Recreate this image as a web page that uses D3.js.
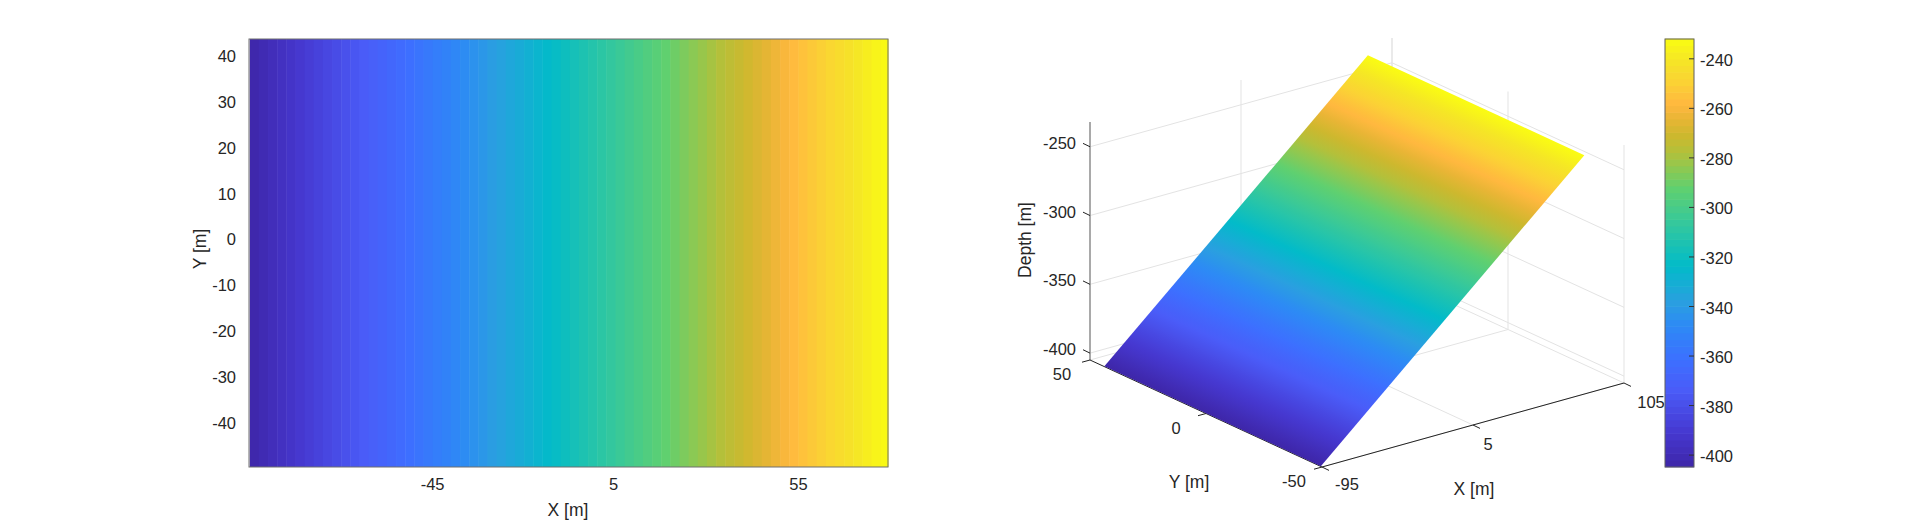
<!DOCTYPE html>
<html>
<head>
<meta charset="utf-8">
<script src="https://cdn.jsdelivr.net/npm/d3@7"></script>
<style>
    html, body { margin: 0; padding: 0; background: #fff; }
    svg { display: block; }
    text { font-family: "Liberation Sans", Arial, sans-serif; font-size: 16.5px; fill: #262626; }
    text.title { font-size: 17.5px; }
</style>
</head>
<body>
<svg id="chart" width="1912" height="525"></svg>
<script>
// surface: depth only changes along X
const xValues = [-95, -92.5, -90, -87.5, -85, -82.5, -80, -77.5, -75, -72.5, -70, -67.5, -65, -62.5, -60, -57.5, -55, -52.5, -50, -47.5, -45, -42.5, -40, -37.5, -35, -32.5, -30, -27.5, -25, -22.5, -20, -17.5, -15, -12.5, -10, -7.5, -5, -2.5, 0, 2.5, 5, 7.5, 10, 12.5, 15, 17.5, 20, 22.5, 25, 27.5, 30, 32.5, 35, 37.5, 40, 42.5, 45, 47.5, 50, 52.5, 55, 57.5, 60, 62.5, 65, 67.5, 70, 72.5, 75, 77.5, 79.5];
const depthValues = [-404.8, -402.3, -399.9, -397.4, -394.9, -392.5, -390.0, -387.5, -385.0, -382.6, -380.1, -377.6, -375.1, -372.7, -370.2, -367.7, -365.2, -362.8, -360.3, -357.8, -355.3, -352.9, -350.4, -347.9, -345.4, -343.0, -340.5, -338.0, -335.5, -333.1, -330.6, -328.1, -325.6, -323.2, -320.7, -318.2, -315.7, -313.3, -310.8, -308.3, -305.8, -303.4, -300.9, -298.4, -295.9, -293.5, -291.0, -288.5, -286.0, -283.6, -281.1, -278.6, -276.1, -273.7, -271.2, -268.7, -266.2, -263.8, -261.3, -258.8, -256.3, -253.9, -251.4, -248.9, -246.4, -244.0, -241.5, -239.0, -236.5, -234.1, -232.0];
const yLimits = [-49.5, 43.8];

const mapXTicks = [-45, 5, 55];
const mapYTicks = [40, 30, 20, 10, 0, -10, -20, -30, -40];
const xTicks3d = [-95, 5, 105];
const yTicks3d = [-50, 0, 50];
const zTicks3d = [-400, -350, -300, -250];
const barTicks = [-240, -260, -280, -300, -320, -340, -360, -380, -400];

const colorPositions = [0, 0.08, 0.18, 0.25, 0.33, 0.385, 0.47, 0.57, 0.65, 0.70, 0.737, 0.775, 0.813, 0.847, 0.90, 0.95, 1];
const colorValues = ['#3e26a8', '#4638d0', '#4a5cf8', '#3d6fff', '#2d8af5', '#2a9fe0', '#02bbc9', '#35c89c', '#5fd070', '#90c850', '#b4c03a', '#cdb82e', '#e8b535', '#ffb83f', '#fbd334', '#f5e626', '#fafc12'];

const depthMin = -404.8;
const depthMax = -232;

const svg = d3.select('#chart');

const depthToT = d3.scaleLinear().domain([depthMin, depthMax]).range([0, 1]);
const tToColor = d3.scaleLinear().domain(colorPositions).range(colorValues).interpolate(d3.interpolateRgb);
const depthColor = d => tToColor(depthToT(d));

/**
 * Left panel, flat colored columns seen from above
 */
function drawMap() {
    const x = d3.scaleLinear().domain([-95.2, 79.5]).range([249, 888]);
    const y = d3.scaleLinear().domain(yLimits).range([467, 39]);
    const g = svg.append('g');

    g.selectAll('rect.col')
        .data(d3.pairs(xValues.map((v, i) => ({x: v, d: depthValues[i]}))))
        .join('rect')
        .attr('class', 'col')
        .attr('x', d => x(d[0].x))
        .attr('y', y(yLimits[1]))
        .attr('width', d => x(d[1].x) - x(d[0].x) + 0.5)
        .attr('height', y(yLimits[0]) - y(yLimits[1]))
        .attr('fill', d => depthColor((d[0].d + d[1].d) / 2));

    g.append('rect')
        .attr('x', 249).attr('y', 39).attr('width', 639).attr('height', 428)
        .attr('fill', 'none').attr('stroke', '#6f6f6f').attr('stroke-width', 1);

    g.selectAll('text.xt').data(mapXTicks).join('text')
        .attr('class', 'xt')
        .attr('x', d => x(d) - (d === 5 ? 2 : 0)).attr('y', 490)
        .attr('text-anchor', 'middle')
        .text(d => d);

    g.selectAll('text.yt').data(mapYTicks).join('text')
        .attr('class', 'yt')
        .attr('x', 236).attr('y', d => y(d) + 5.5)
        .attr('text-anchor', 'end')
        .text(d => d);

    g.append('text').attr('class', 'title').attr('x', 568).attr('y', 516).attr('text-anchor', 'middle').text('X [m]');
    g.append('text').attr('class', 'title')
        .attr('transform', 'translate(206,249) rotate(-90)')
        .attr('text-anchor', 'middle')
        .text('Y [m]');
}

// orthographic projection of the 3D box
const xShare = d3.scaleLinear().domain([-95, 105]).range([0, 1]);
const yShare = d3.scaleLinear().domain([-50, 50]).range([0, 1]);
const zLift = d3.scaleLinear().domain([-405, -232]).range([0, -238]);

function project(px, py, pz) {
    const a = xShare(px);
    const b = yShare(py);
    return [1322 + a * 302 - b * 232, 467 - a * 84 - b * 107 + zLift(pz)];
}

/**
 * Right panel, walls, axes and the tilted surface
 */
function drawSurface() {
    const g = svg.append('g');
    const zFloor = -405;
    const zTop = -232;
    const gridLine = d3.line();

    const grid = [];
    zTicks3d.forEach(z => {
        grid.push([project(-95, 50, z), project(105, 50, z), project(105, -50, z)]);
    });
    xTicks3d.slice(1).forEach(v => {
        grid.push([project(v, -50, zFloor), project(v, 50, zFloor), project(v, 50, zTop)]);
    });
    yTicks3d.forEach(v => {
        grid.push([project(-95, v, zFloor), project(105, v, zFloor), project(105, v, zTop)]);
    });

    g.selectAll('path.grid').data(grid).join('path')
        .attr('class', 'grid')
        .attr('d', gridLine)
        .attr('fill', 'none')
        .attr('stroke', '#e3e3e3')
        .attr('stroke-width', 1);

    // axis lines and ticks
    g.append('path')
        .attr('d', gridLine([project(-95, 50, zFloor), project(-95, 50, zTop)]))
        .attr('stroke', '#8c8c8c').attr('stroke-width', 1.5).attr('fill', 'none');
    g.append('path')
        .attr('d', gridLine([project(-95, 50, zFloor), project(-95, -50, zFloor), project(105, -50, zFloor)]))
        .attr('stroke', '#222').attr('stroke-width', 1).attr('fill', 'none');

    const tick = (p, dx, dy) => gridLine([p, [p[0] + dx, p[1] + dy]]);
    const tickPaths = [
        ...zTicks3d.map(z => tick(project(-95, 50, z), -7, -3.4)),
        ...yTicks3d.map(v => tick(project(-95, v, zFloor), -8, 2.2)),
        ...xTicks3d.map(v => tick(project(v, -50, zFloor), 7, 3.4))
    ];
    g.selectAll('path.tick').data(tickPaths).join('path')
        .attr('class', 'tick').attr('d', d => d)
        .attr('stroke', '#222').attr('stroke-width', 1).attr('fill', 'none');

    // surface, colored with one gradient running across the constant-X lines
    const start = project(xValues[0], yLimits[0], depthValues[0]);
    const last = xValues.length - 1;
    const end = project(xValues[last], yLimits[0], depthValues[last]);
    const along = [project(-95, 50, zFloor)[0] - project(-95, -50, zFloor)[0], project(-95, 50, zFloor)[1] - project(-95, -50, zFloor)[1]];
    const len = Math.hypot(along[0], along[1]);
    const normal = [-along[1] / len, along[0] / len];
    const reach = (end[0] - start[0]) * normal[0] + (end[1] - start[1]) * normal[1];

    const gradient = svg.append('defs').append('linearGradient')
        .attr('id', 'surface-fill')
        .attr('gradientUnits', 'userSpaceOnUse')
        .attr('x1', start[0]).attr('y1', start[1])
        .attr('x2', start[0] + normal[0] * reach).attr('y2', start[1] + normal[1] * reach);
    // colormap knots plus the data rows keep the ramp's bends in place
    const offsets = d3.sort(new Set([...depthValues.map(d => depthToT(d)), ...colorPositions]));
    gradient.selectAll('stop').data(offsets).join('stop')
        .attr('offset', d => d)
        .attr('stop-color', d => tToColor(d));

    g.append('path')
        .attr('d', gridLine([
            project(xValues[0], yLimits[0], depthValues[0]),
            project(xValues[last], yLimits[0], depthValues[last]),
            project(xValues[last], yLimits[1], depthValues[last]),
            project(xValues[0], yLimits[1], depthValues[0])
        ]) + 'Z')
        .attr('fill', 'url(#surface-fill)');

    // labels
    g.selectAll('text.zt').data(zTicks3d).join('text')
        .attr('class', 'zt')
        .attr('x', 1076).attr('y', d => project(-95, 50, d)[1] + 2)
        .attr('text-anchor', 'end')
        .text(d => d);
    g.selectAll('text.yt3').data(yTicks3d).join('text')
        .attr('class', 'yt3')
        .attr('x', d => project(-95, d, zFloor)[0] - 28 + (d === 0 ? -2 : 0))
        .attr('y', d => project(-95, d, zFloor)[1] + 20)
        .attr('text-anchor', 'middle')
        .text(d => d);
    const xLabelShift = {'-95': [25, 23], '5': [15, 25], '105': [27, 25]};
    g.selectAll('text.xt3').data(xTicks3d).join('text')
        .attr('class', 'xt3')
        .attr('x', d => project(d, -50, zFloor)[0] + xLabelShift[d][0])
        .attr('y', d => project(d, -50, zFloor)[1] + xLabelShift[d][1])
        .attr('text-anchor', 'middle')
        .text(d => d);

    g.append('text').attr('class', 'title').attr('x', 1474).attr('y', 495).attr('text-anchor', 'middle').text('X [m]');
    g.append('text').attr('class', 'title').attr('x', 1189).attr('y', 488).attr('text-anchor', 'middle').text('Y [m]');
    g.append('text').attr('class', 'title')
        .attr('transform', 'translate(1031,240) rotate(-90)')
        .attr('text-anchor', 'middle')
        .text('Depth [m]');
}

/**
 * Colorbar on the far right
 */
function drawColorbar() {
    const y = d3.scaleLinear().domain([depthMin, depthMax]).range([467, 39]);
    const g = svg.append('g');
    const levels = d3.range(64).map(i => depthMin + (i + 0.5) * (depthMax - depthMin) / 64);
    const h = (y(depthMin) - y(depthMax)) / 64;

    g.selectAll('rect.level').data(levels).join('rect')
        .attr('class', 'level')
        .attr('x', 1665).attr('width', 29)
        .attr('y', d => y(d) - h / 2 - 0.3).attr('height', h + 0.6)
        .attr('fill', depthColor);

    g.append('rect')
        .attr('x', 1665).attr('y', 39).attr('width', 29).attr('height', 428)
        .attr('fill', 'none').attr('stroke', '#5f5f5f').attr('stroke-width', 1);

    g.selectAll('line.bt').data(barTicks).join('line')
        .attr('class', 'bt')
        .attr('x1', 1689).attr('x2', 1694)
        .attr('y1', d => y(d)).attr('y2', d => y(d))
        .attr('stroke', '#333').attr('stroke-width', 1);

    g.selectAll('text.bl').data(barTicks).join('text')
        .attr('class', 'bl')
        .attr('x', 1700).attr('y', d => y(d) + 7)
        .text(d => d);
}

drawMap();
drawSurface();
drawColorbar();
</script>
</body>
</html>
